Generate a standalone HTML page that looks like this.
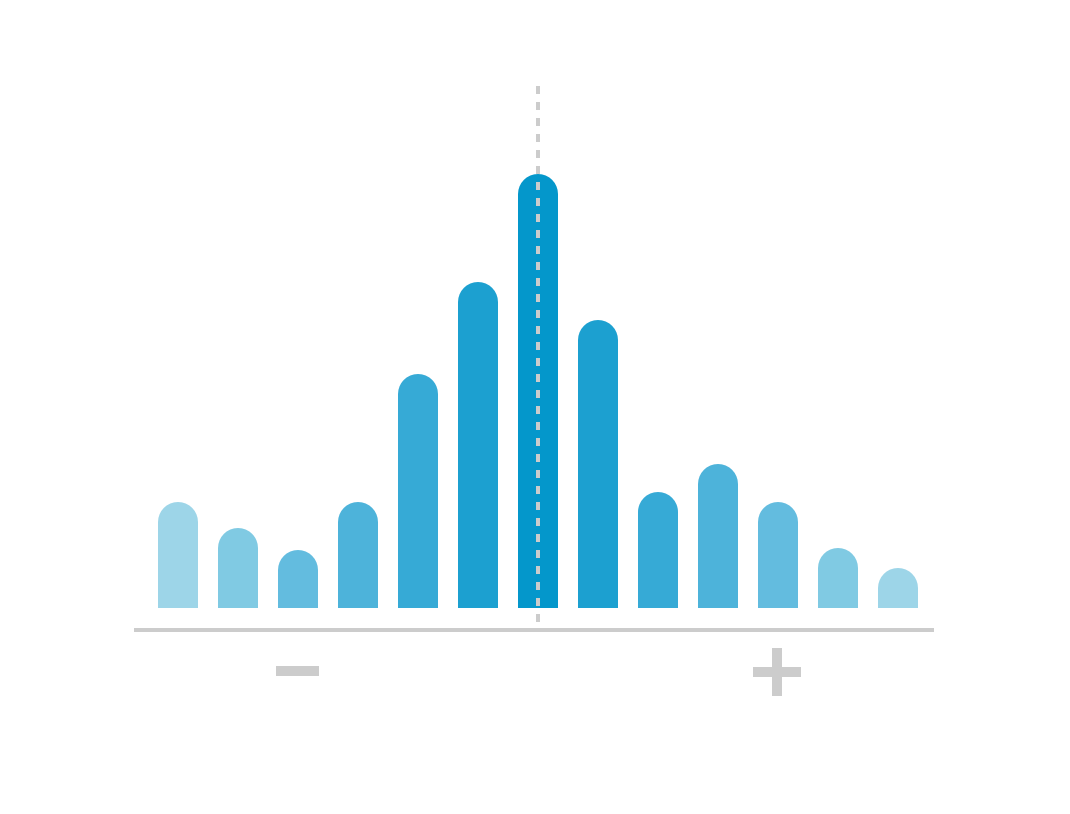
<!DOCTYPE html>
<html><head><meta charset="utf-8"><style>html,body{margin:0;padding:0;background:#fff;width:1070px;height:814px;overflow:hidden}</style></head>
<body>
<svg id="chart" width="1070" height="814" xmlns="http://www.w3.org/2000/svg">
<g id="bars"></g>
<line x1="134" y1="630" x2="934" y2="630" stroke="#cccccc" stroke-width="4"/>
<line x1="538" y1="86" x2="538" y2="622" stroke="#cccccc" stroke-width="4" stroke-dasharray="8,8"/>
<rect x="276" y="666" width="43" height="10" fill="#cccccc"/>
<g fill="#cccccc">
<rect x="753" y="667" width="48" height="10"/>
<rect x="772" y="648" width="10" height="48"/>
</g>
</svg>
<script>
const categories = ["-6","-5","-4","-3","-2","-1","0","1","2","3","4","5","6"];
const values = [106,80,58,106,234,326,434,288,116,144,106,60,40];
const colors = ["#9dd5e8","#80cae3","#63bcdf","#4db3da","#36aad6","#1ca0d0","#0497cb"];
const baseY = 608, pxPerUnit = 1, x0 = 158, step = 60, bw = 40;
function xScale(i){return x0 + i*step;}
function yScale(v){return baseY - v*pxPerUnit;}
const g = document.getElementById('bars');
const ns = "http://www.w3.org/2000/svg";
const center = Math.floor(categories.length/2);
categories.forEach((c,i)=>{
  const x = xScale(i), top = yScale(values[i]), r = bw/2;
  const h = baseY - top;
  const p = document.createElementNS(ns,'path');
  let d;
  if (h >= r) d = `M${x},${baseY} L${x},${top+r} A${r},${r} 0 0 1 ${x+bw},${top+r} L${x+bw},${baseY} Z`;
  else d = `M${x},${baseY} L${x+bw},${baseY} L${x+bw},${top} L${x},${top} Z`;
  p.setAttribute('d', d);
  const dist = Math.abs(i-center);
  p.setAttribute('fill', colors[Math.max(0, colors.length-1-dist)]);
  
  
  g.appendChild(p);
});
</script>
</body></html>
